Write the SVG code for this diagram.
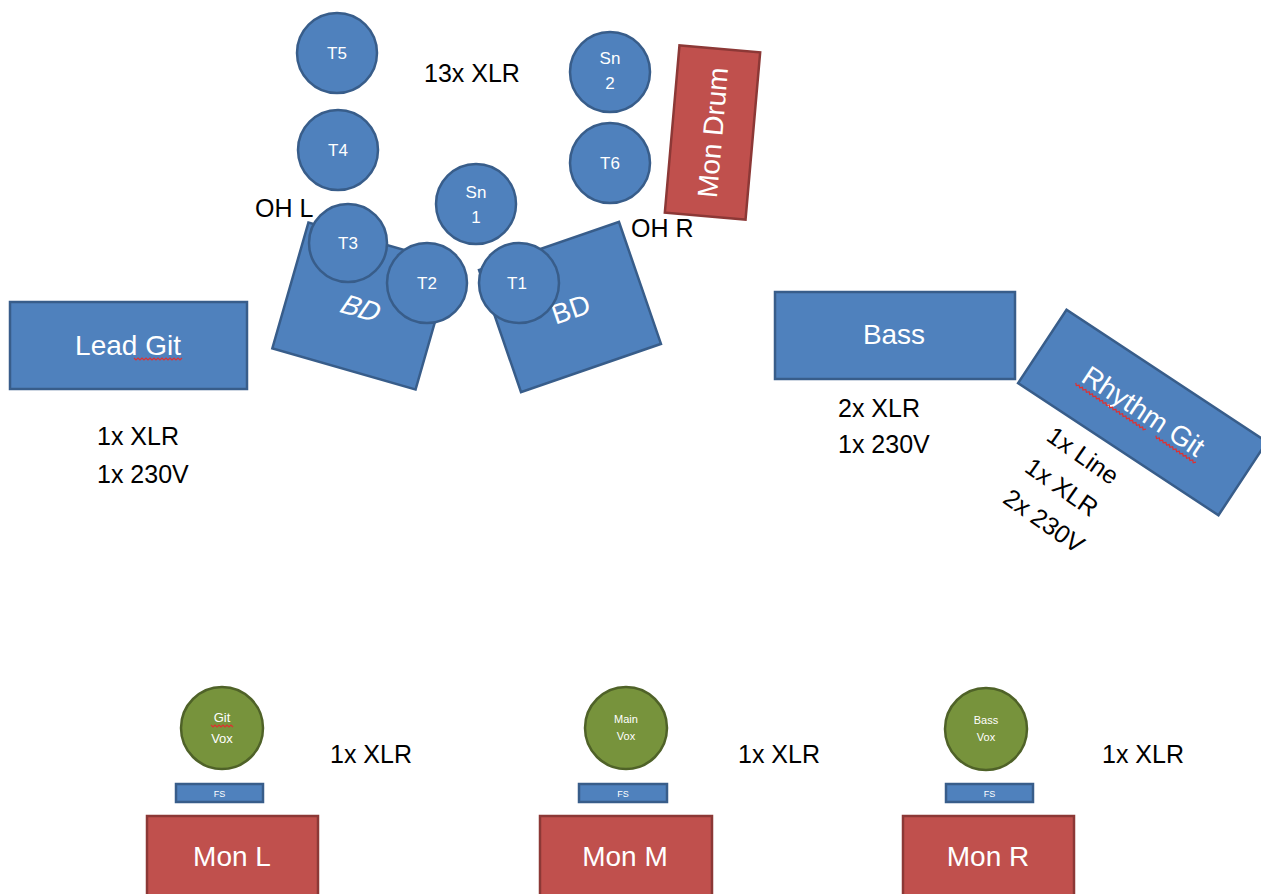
<svg xmlns="http://www.w3.org/2000/svg" width="1261" height="894" viewBox="0 0 1261 894">
<style>
.b{fill:#4F81BD;stroke:#385D8A;stroke-width:2.5}
.r{fill:#C0504D;stroke:#8C3836;stroke-width:2.5}
.g{fill:#77933C;stroke:#4F6228;stroke-width:2.5}
text{font-family:"Liberation Sans",Arial,sans-serif}
.w{fill:#FFFFFF;text-anchor:middle}
.k{fill:#000000;font-size:25px}
.d{font-size:17px}
.big{font-size:28px}
.sq{fill:none;stroke:#E03030;stroke-width:1.2}
</style>
<rect width="1261" height="894" fill="#FFFFFF"/>
<g id="bd-left" transform="translate(362,306) rotate(16)">
<rect class="b" x="-74.5" y="-65.5" width="149" height="131"/>
<text class="w big" x="0" y="12" font-style="italic" transform="skewX(-8)">BD</text>
</g>
<g id="bd-right" transform="translate(570,307) rotate(-19)">
<rect class="b" x="-74" y="-64.5" width="148" height="129"/>
<text class="w big" x="0" y="12">BD</text>
</g>
<g id="t5"><circle class="b" cx="337" cy="53" r="40"/><text class="w d" x="337" y="59">T5</text></g>
<g id="t4"><circle class="b" cx="338" cy="150" r="40"/><text class="w d" x="338" y="156">T4</text></g>
<g id="sn1"><circle class="b" cx="476" cy="204" r="40"/><text class="w d" x="476" y="198">Sn</text><text class="w d" x="476" y="223">1</text></g>
<g id="t3"><circle class="b" cx="348" cy="243" r="39"/><text class="w d" x="348" y="249">T3</text></g>
<g id="t2"><circle class="b" cx="427" cy="283" r="40"/><text class="w d" x="427" y="289">T2</text></g>
<g id="t1"><circle class="b" cx="519" cy="283" r="40"/><text class="w d" x="517" y="289">T1</text></g>
<g id="sn2"><circle class="b" cx="610" cy="72" r="40"/><text class="w d" x="610" y="64">Sn</text><text class="w d" x="610" y="89">2</text></g>
<g id="t6"><circle class="b" cx="610" cy="163" r="40"/><text class="w d" x="610" y="169">T6</text></g>
<g id="mon-drum" transform="translate(712.5,132.5) rotate(5)">
<rect class="r" x="-40.5" y="-84" width="81" height="168"/>
<text class="w big" transform="rotate(-90)" x="0" y="10">Mon Drum</text>
</g>
<g id="lead-git">
<rect class="b" x="10" y="302" width="237" height="87"/>
<text class="w big" x="128" y="355">Lead Git</text>
<polyline class="sq" points="134,358 136,360 138,358 140,360 142,358 144,360 146,358 148,360 150,358 152,360 154,358 156,360 158,358 160,360 162,358 164,360 166,358 168,360 170,358 172,360 174,358 176,360 178,358 180,360 182,358"/>
</g>
<g id="bass">
<rect class="b" x="775" y="292" width="240" height="87"/>
<text class="w big" x="894" y="344">Bass</text>
</g>
<g id="rhythm-git" transform="translate(1142.5,412.5) rotate(33.4)">
<rect class="b" x="-120" y="-44" width="240" height="88"/>
<text class="w big" x="0" y="8">Rhythm Git</text>
<polyline class="sq" points="-72,12 -70,14 -68,12 -66,14 -64,12 -62,14 -60,12 -58,14 -56,12 -54,14 -52,12 -50,14 -48,12 -46,14 -44,12 -42,14 -40,12 -38,14 -36,12 -34,14 -32,12 -30,14 -28,12 -26,14 -24,12 -22,14 -20,12 -18,14 -16,12 -14,14 -12,12 -10,14 -8,12 -6,14 -4,12 -2,14 0,12 2,14 4,12 6,14 8,12 10,14 12,12"/>
<polyline class="sq" points="24,12 26,14 28,12 30,14 32,12 34,14 36,12 38,14 40,12 42,14 44,12 46,14 48,12 50,14 52,12 54,14 56,12 58,14 60,12 62,14 64,12 66,14 68,12 70,14 72,12"/>
</g>
<g id="labels">
<text class="k" x="424" y="82">13x XLR</text>
<text class="k" x="255" y="217">OH L</text>
<text class="k" x="631" y="237">OH R</text>
<text class="k" x="97" y="445">1x XLR</text>
<text class="k" x="97" y="483">1x 230V</text>
<text class="k" x="838" y="417">2x XLR</text>
<text class="k" x="838" y="453">1x 230V</text>
<g transform="translate(1056,424) rotate(35)">
<text class="k" font-size="27" x="0" y="19">1x Line</text>
<text class="k" font-size="27" x="0" y="57">1x XLR</text>
<text class="k" font-size="27" x="0" y="95">2x 230V</text>
</g>
<text class="k" x="330" y="763">1x XLR</text>
<text class="k" x="738" y="763">1x XLR</text>
<text class="k" x="1102" y="763">1x XLR</text>
</g>
<g id="git-vox"><circle class="g" cx="222" cy="728" r="41"/><text class="w" font-size="13" x="222" y="722">Git</text><text class="w" font-size="13" x="222" y="743">Vox</text>
<polyline class="sq" points="211,725 213,727 215,725 217,727 219,725 221,727 223,725 225,727 227,725 229,727 231,725 233,727"/></g>
<g id="main-vox"><circle class="g" cx="626" cy="728" r="41"/><text class="w" font-size="11" x="626" y="723">Main</text><text class="w" font-size="11" x="626" y="740">Vox</text></g>
<g id="bass-vox"><circle class="g" cx="986" cy="729" r="41"/><text class="w" font-size="11" x="986" y="724">Bass</text><text class="w" font-size="11" x="986" y="741">Vox</text></g>
<g id="fs-l"><rect class="b" x="176" y="784" width="87" height="18" stroke-width="2"/><text class="w" font-size="9" x="219.5" y="797">FS</text></g>
<g id="fs-m"><rect class="b" x="579" y="784" width="88" height="18" stroke-width="2"/><text class="w" font-size="9" x="623" y="797">FS</text></g>
<g id="fs-r"><rect class="b" x="946" y="784" width="87" height="18" stroke-width="2"/><text class="w" font-size="9" x="989.5" y="797">FS</text></g>
<g id="mon-l"><rect class="r" x="147" y="816" width="171" height="90"/><text class="w big" x="232" y="866">Mon L</text></g>
<g id="mon-m"><rect class="r" x="540" y="816" width="172" height="90"/><text class="w big" x="625" y="866">Mon M</text></g>
<g id="mon-r"><rect class="r" x="903" y="816" width="171" height="90"/><text class="w big" x="988" y="866">Mon R</text></g>
<g id="connectors"></g>
</svg>
